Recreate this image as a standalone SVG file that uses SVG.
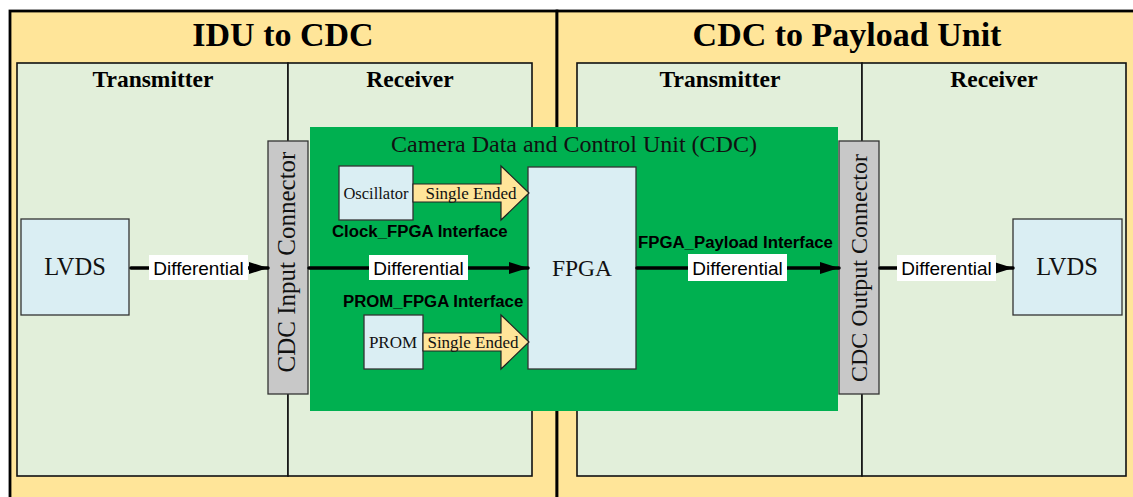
<svg xmlns="http://www.w3.org/2000/svg" width="1133" height="497" viewBox="0 0 1133 497">
  <style>
    .panel { fill: #FFE599; stroke: #000; stroke-width: 2.8; }
    .zone { fill: #E2EFDA; stroke: #111; stroke-width: 1.6; }
    .cdc { fill: #00B050; }
    .conn { fill: #C8C8C8; stroke: #333; stroke-width: 1.3; }
    .blk { fill: #DAEEF3; stroke: #333; stroke-width: 1.3; }
    .fat { fill: #FFE599; stroke: #222; stroke-width: 1.2; }
    .title { font-family: "Liberation Serif", serif; font-weight: bold; font-size: 34px; text-anchor: middle; }
    .hdr { font-family: "Liberation Serif", serif; font-weight: bold; font-size: 23.5px; text-anchor: middle; }
    .serif { font-family: "Liberation Serif", serif; fill: #111; text-anchor: middle; }
    .bsans { font-family: "Liberation Sans", sans-serif; font-weight: bold; font-size: 16.8px; fill: #000; }
    .lbl { font-family: "Liberation Sans", sans-serif; font-size: 19px; fill: #000; text-anchor: middle; }
    .lblbg { fill: #fff; }
    .wire { stroke: #000; stroke-width: 3.5; stroke-linecap: round; fill: none; marker-end: url(#head); }
  </style>
  <defs>
    <marker id="head" markerUnits="userSpaceOnUse" markerWidth="20" markerHeight="12" refX="19" refY="6" orient="auto">
      <path d="M0,0 L19,6 L0,12 Z" fill="#000"/>
    </marker>
  </defs>

  <!-- two outer panels -->
  <g id="panel-idu-cdc">
    <rect class="panel" x="10" y="11" width="547" height="500"/>
    <text class="title" x="283" y="46">IDU to CDC</text>
  </g>
  <g id="panel-cdc-payload">
    <rect class="panel" x="557" y="11" width="590" height="500"/>
    <text class="title" x="847" y="46">CDC to Payload Unit</text>
  </g>

  <!-- transmitter / receiver zones -->
  <g id="zone-idu-tx">
    <rect class="zone" x="17" y="63" width="271" height="413"/>
    <text class="hdr" x="153" y="87">Transmitter</text>
  </g>
  <g id="zone-idu-rx">
    <rect class="zone" x="288" y="63" width="244" height="413"/>
    <text class="hdr" x="410" y="87">Receiver</text>
  </g>
  <g id="zone-pl-tx">
    <rect class="zone" x="577" y="63" width="285" height="413"/>
    <text class="hdr" x="720" y="87">Transmitter</text>
  </g>
  <g id="zone-pl-rx">
    <rect class="zone" x="862" y="63" width="264" height="413"/>
    <text class="hdr" x="994" y="87">Receiver</text>
  </g>

  <!-- camera data and control unit -->
  <g id="cdc">
    <rect class="cdc" x="310" y="127" width="528" height="284"/>
    <text class="serif" x="574" y="152" font-size="24">Camera Data and Control Unit (CDC)</text>
    <text class="bsans" x="332" y="237">Clock_FPGA Interface</text>
    <text class="bsans" x="343" y="307">PROM_FPGA Interface</text>
    <text class="bsans" x="638" y="248">FPGA_Payload Interface</text>
  </g>

  <g id="cdc-input-connector">
    <rect class="conn" x="268" y="141" width="40" height="253"/>
    <text class="serif" font-size="25" transform="translate(295,262) rotate(-90)">CDC Input Connector</text>
  </g>
  <g id="cdc-output-connector">
    <rect class="conn" x="839" y="141" width="40" height="253"/>
    <text class="serif" font-size="24" transform="translate(867,268) rotate(-90)">CDC Output Connector</text>
  </g>

  <g id="lvds-tx">
    <rect class="blk" x="21" y="219" width="108" height="96"/>
    <text class="serif" x="75" y="275" font-size="24.5">LVDS</text>
  </g>
  <g id="lvds-rx">
    <rect class="blk" x="1013" y="219" width="109" height="96"/>
    <text class="serif" x="1067" y="275" font-size="24.5">LVDS</text>
  </g>

  <g id="fpga">
    <rect class="blk" x="528" y="167" width="108" height="202"/>
    <text class="serif" x="582" y="276" font-size="23.5">FPGA</text>
  </g>
  <g id="oscillator">
    <rect class="blk" x="339" y="166" width="74" height="54"/>
    <text class="serif" x="376" y="199" font-size="16.5">Oscillator</text>
  </g>
  <g id="prom">
    <rect class="blk" x="364" y="315" width="59" height="54"/>
    <text class="serif" x="393" y="348" font-size="17">PROM</text>
  </g>

  <g id="connectors">
    <!-- single-ended block arrows -->
    <path class="fat" d="M413,184 H501 V166 L529,193 L501,220 V202 H413 Z"/>
    <text class="serif" x="471" y="199" font-size="17">Single Ended</text>
    <path class="fat" d="M423,333 H501 V315 L529,342 L501,369 V351 H423 Z"/>
    <text class="serif" x="473" y="348" font-size="17">Single Ended</text>

    <!-- differential links -->
    <line class="wire" x1="131" y1="268" x2="268" y2="268"/>
    <rect class="lblbg" x="149" y="255" width="99" height="25"/>
    <text class="lbl" x="198.5" y="274.5">Differential</text>

    <line class="wire" x1="309" y1="268" x2="528" y2="268"/>
    <rect class="lblbg" x="369" y="255" width="99" height="25"/>
    <text class="lbl" x="418.5" y="274.5">Differential</text>

    <line class="wire" x1="637" y1="268" x2="839" y2="268"/>
    <rect class="lblbg" x="688" y="254" width="99" height="27"/>
    <text class="lbl" x="737.5" y="274.5">Differential</text>

    <line class="wire" x1="880" y1="268" x2="1013" y2="268"/>
    <rect class="lblbg" x="897" y="255" width="99" height="26"/>
    <text class="lbl" x="946.5" y="274.5">Differential</text>
  </g>
</svg>
